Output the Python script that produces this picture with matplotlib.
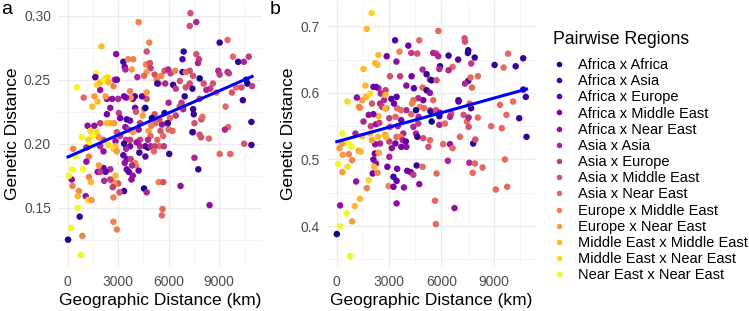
import numpy as np
import matplotlib
matplotlib.use("Agg")
import matplotlib.pyplot as plt
from matplotlib.lines import Line2D

plt.rcParams['font.family'] = ['Liberation Sans', 'DejaVu Sans']

regions = ["Africa x Africa", "Africa x Asia", "Africa x Europe", "Africa x Middle East",
           "Africa x Near East", "Asia x Asia", "Asia x Europe", "Asia x Middle East",
           "Asia x Near East", "Europe x Middle East", "Europe x Near East",
           "Middle East x Middle East", "Middle East x Near East", "Near East x Near East"]

# panel a: geographic distance (km), genetic distance, region index
a_geo = [7300, 7260, 7650, 4220, 4850, 2010, 9510, 9040, 2880, 4700, 6900, 6830, 7650, 7810, 7750,
         9830, 10140, 10480, 10770, 3310, 3390, 3590, 3900, 4660, 4890, 4930, 3810, 3430, 4140, 4700,
         4540, 5170, 5290, 5410, 5560, 5760, 5980, 6120, 6390, 5330, 5800, 6270, 6430, 6670, 6830,
         7020, 7260, 7460, 7260, 7020, 7420, 7850, 8090, 8480, 8840, 8960, 9040, 9510, 9590, 9770,
         10020, 10340, 10610, 10690, 10970, 10420, 10930, 10930, 10500, 9040, 9670, 9390, 9550, 9350, 8400,
         8440, 7770, 7540, 7460, 7850, 7930, 7420, 7460, 7500, 7540, 7950, 8010, 7850, 8250, 8640,
         6960, 6770, 6870, 6670, 6430, 6080, 5880, 6000, 6230, 6040, 5680, 5520, 5330, 5450, 5720,
         5760, 6000, 5960, 5600, 5450, 5170, 5010, 5210, 4970, 4810, 4930, 4770, 4620, 4770, 4930,
         5170, 5130, 4620, 4540, 4700, 5410, 5680, 5640, 5600, 6710, 4300, 4300, 4260, 4100, 4220,
         4300, 4460, 4540, 4700, 4420, 4700, 4620, 4010, 4060, 3870, 3990, 3710, 3750, 3470, 3350,
         3000, 3040, 3120, 3510, 3710, 3430, 3630, 3870, 3710, 3470, 3710, 3470, 3350, 3120, 2920,
         2840, 3310, 3510, 3750, 3990, 4060, 3830, 3390, 3510, 3630, 4220, 3870, 3790, 3350, 3000,
         2800, 3080, 2720, 2840, 2530, 2720, 2720, 2920, 2530, 2130, 2250, 1850, 1780, 1930, 2170,
         2840, 2720, 2920, 2410, 2130, 1930, 2130, 1740, 1850, 1460, 1220, 1580, 1930, 2330, 2530,
         2760, 2330, 2530, 2640, 2330, 2250, 1930, 1740, 1930, 2130, 2370, 2410, 2800, 2920, 2720,
         1700, 1640, 550, 1580, 1780, 950, 1460, 1180, 1340, 830, 1300, 1110, 320, 470, 1260,
         1110, 910, 280, 240, 80, 1260, 1380, 670, 590, 1070, 1220, 1420, 590, 710, 200,
         870, 770, 20, 280, 2680]
a_gen = [0.302, 0.292, 0.295, 0.295, 0.279, 0.276, 0.281, 0.279, 0.270, 0.272, 0.272, 0.266, 0.270, 0.266, 0.263,
         0.268, 0.264, 0.264, 0.268, 0.264, 0.260, 0.266, 0.266, 0.262, 0.263, 0.259, 0.258, 0.258, 0.252, 0.256,
         0.253, 0.254, 0.250, 0.247, 0.253, 0.257, 0.258, 0.255, 0.257, 0.247, 0.247, 0.246, 0.243, 0.249, 0.256,
         0.256, 0.257, 0.253, 0.247, 0.244, 0.243, 0.251, 0.247, 0.243, 0.240, 0.257, 0.254, 0.256, 0.255, 0.240,
         0.244, 0.244, 0.250, 0.247, 0.245, 0.234, 0.217, 0.199, 0.200, 0.192, 0.192, 0.229, 0.213, 0.211, 0.204,
         0.152, 0.180, 0.189, 0.209, 0.207, 0.205, 0.209, 0.227, 0.223, 0.216, 0.219, 0.221, 0.235, 0.242, 0.247,
         0.237, 0.232, 0.227, 0.229, 0.222, 0.220, 0.216, 0.211, 0.210, 0.192, 0.206, 0.210, 0.203, 0.198, 0.198,
         0.224, 0.232, 0.216, 0.215, 0.219, 0.223, 0.220, 0.216, 0.214, 0.210, 0.206, 0.203, 0.198, 0.197, 0.198,
         0.198, 0.194, 0.190, 0.165, 0.162, 0.170, 0.170, 0.149, 0.144, 0.167, 0.203, 0.198, 0.193, 0.201, 0.211,
         0.216, 0.222, 0.227, 0.235, 0.237, 0.240, 0.228, 0.228, 0.225, 0.235, 0.237, 0.241, 0.236, 0.236, 0.237,
         0.235, 0.224, 0.220, 0.219, 0.218, 0.213, 0.211, 0.209, 0.203, 0.203, 0.198, 0.196, 0.200, 0.206, 0.209,
         0.202, 0.191, 0.188, 0.188, 0.185, 0.183, 0.183, 0.185, 0.180, 0.178, 0.179, 0.175, 0.172, 0.163, 0.169,
         0.168, 0.162, 0.170, 0.175, 0.172, 0.158, 0.139, 0.133, 0.180, 0.181, 0.178, 0.183, 0.178, 0.178, 0.171,
         0.198, 0.196, 0.194, 0.199, 0.203, 0.198, 0.194, 0.209, 0.205, 0.206, 0.203, 0.214, 0.216, 0.216, 0.216,
         0.216, 0.223, 0.228, 0.235, 0.235, 0.237, 0.242, 0.246, 0.248, 0.250, 0.252, 0.248, 0.250, 0.250, 0.245,
         0.255, 0.252, 0.244, 0.237, 0.233, 0.236, 0.229, 0.214, 0.210, 0.205, 0.199, 0.197, 0.196, 0.190, 0.190,
         0.186, 0.180, 0.180, 0.172, 0.175, 0.174, 0.170, 0.163, 0.159, 0.159, 0.156, 0.156, 0.150, 0.143, 0.134,
         0.128, 0.113, 0.125, 0.167, 0.166]
a_reg = [7, 7, 5, 9, 9, 11, 8, 1, 4, 7, 1, 2, 7, 6, 5,
         8, 1, 5, 6, 1, 3, 9, 9, 9, 7, 6, 10, 5, 5, 10,
         8, 7, 9, 7, 9, 7, 5, 6, 9, 1, 5, 1, 6, 7, 1,
         8, 7, 7, 7, 7, 1, 0, 7, 6, 8, 5, 6, 5, 6, 7,
         8, 7, 1, 0, 6, 1, 1, 1, 7, 8, 8, 8, 8, 5, 8,
         4, 1, 5, 7, 7, 7, 1, 1, 1, 7, 7, 8, 6, 5, 7,
         1, 6, 5, 7, 6, 8, 8, 8, 8, 1, 8, 7, 8, 8, 6,
         1, 5, 1, 4, 7, 7, 0, 8, 9, 10, 8, 5, 2, 1, 5,
         6, 8, 2, 0, 5, 9, 7, 8, 8, 4, 6, 5, 1, 4, 4,
         6, 10, 9, 7, 2, 10, 0, 3, 7, 3, 2, 9, 10, 4, 3,
         5, 6, 3, 1, 3, 4, 6, 10, 6, 6, 3, 5, 1, 6, 7,
         4, 2, 3, 6, 9, 9, 5, 4, 3, 2, 3, 4, 4, 1, 7,
         9, 7, 10, 11, 6, 9, 9, 9, 5, 3, 2, 10, 4, 6, 5,
         11, 12, 10, 12, 7, 5, 4, 12, 10, 13, 12, 4, 6, 11, 11,
         10, 3, 4, 4, 4, 10, 4, 12, 11, 13, 12, 11, 5, 3, 9,
         13, 2, 13, 10, 11, 8, 11, 4, 12, 13, 13, 5, 9, 13, 9,
         4, 13, 13, 4, 13, 9, 11, 9, 11, 4, 12, 10, 13, 1, 13,
         9, 13, 0, 9, 6]

# panel b
b_geo = [2000, 1720, 3340, 4100, 4730, 5820, 7330, 7350, 7540, 7520, 6410, 6960, 7910, 9050, 9820,
         10260, 10690, 9570, 7710, 6640, 6410, 5700, 5820, 5530, 4610, 4270, 3590, 2860, 3420, 2390,
         2200, 2330, 1530, 4920, 5150, 5340, 5440, 5720, 5920, 5880, 4290, 3630, 3050, 3990, 4420,
         4920, 5150, 5340, 5530, 4960, 4670, 4390, 4310, 4770, 5000, 5340, 5380, 5690, 5920, 5880,
         5880, 5440, 5340, 5250, 4960, 4540, 4620, 4390, 4670, 4690, 4540, 4270, 3990, 3680, 3460,
         3280, 3430, 3130, 2790, 2520, 2390, 2250, 2710, 2820, 3010, 3360, 3690, 3500, 3810, 3430,
         3650, 3780, 3360, 3960, 3990, 3700, 3150, 3010, 2480, 2200, 2180, 2100, 2250, 2060, 2330,
         2140, 2400, 2370, 2020, 1910, 1950, 2250, 2440, 2400, 2100, 1830, 1530, 1260, 1450, 1680,
         1910, 2100, 1640, 2020, 2480, 2600, 2790, 2790, 3050, 2770, 2820, 610, 1150, 1330, 1070,
         1450, 1260, 1370, 650, 320, 300, 150, 340, 690, 840, 880, 610, 80, 320, 1110,
         1720, 1830, 1330, 1030, 570, 880, 190, 190, 0, 760, 3010, 2900, 2970, 3250, 3430,
         3250, 3460, 3430, 3850, 4040, 4240, 4390, 4580, 4920, 4730, 5720, 5630, 5680, 6750, 6100,
         6490, 6640, 6370, 7060, 6980, 6980, 6560, 6490, 6200, 7270, 7460, 7560, 7700, 7560, 7620,
         7750, 7540, 7350, 7670, 8090, 8090, 7820, 7940, 7600, 7920, 7790, 8360, 8850, 9360, 9460,
         9730, 10110, 10460, 10840, 10880, 9640, 9120, 9770, 10690]
b_gen = [0.720, 0.696, 0.679, 0.671, 0.679, 0.693, 0.682, 0.677, 0.664, 0.660, 0.656, 0.650, 0.653, 0.642, 0.659,
         0.640, 0.652, 0.638, 0.644, 0.639, 0.634, 0.659, 0.655, 0.660, 0.659, 0.660, 0.662, 0.655, 0.647, 0.657,
         0.645, 0.642, 0.636, 0.635, 0.628, 0.620, 0.619, 0.619, 0.640, 0.636, 0.625, 0.625, 0.625, 0.611, 0.607,
         0.608, 0.604, 0.600, 0.589, 0.589, 0.592, 0.589, 0.584, 0.579, 0.577, 0.574, 0.572, 0.574, 0.570, 0.565,
         0.552, 0.557, 0.529, 0.519, 0.532, 0.539, 0.534, 0.549, 0.554, 0.564, 0.574, 0.568, 0.574, 0.574, 0.577,
         0.584, 0.594, 0.591, 0.604, 0.599, 0.607, 0.609, 0.589, 0.577, 0.562, 0.564, 0.559, 0.550, 0.539, 0.534,
         0.534, 0.529, 0.524, 0.527, 0.519, 0.519, 0.517, 0.527, 0.524, 0.523, 0.509, 0.500, 0.494, 0.479, 0.480,
         0.489, 0.510, 0.534, 0.529, 0.539, 0.550, 0.553, 0.555, 0.565, 0.568, 0.567, 0.557, 0.579, 0.589, 0.594,
         0.599, 0.609, 0.611, 0.584, 0.584, 0.579, 0.597, 0.577, 0.549, 0.537, 0.534, 0.587, 0.593, 0.578, 0.539,
         0.535, 0.513, 0.512, 0.524, 0.539, 0.524, 0.517, 0.507, 0.508, 0.519, 0.499, 0.489, 0.493, 0.481, 0.467,
         0.457, 0.469, 0.441, 0.430, 0.419, 0.407, 0.431, 0.400, 0.388, 0.355, 0.504, 0.489, 0.460, 0.459, 0.468,
         0.474, 0.486, 0.434, 0.458, 0.483, 0.481, 0.477, 0.491, 0.489, 0.463, 0.479, 0.438, 0.403, 0.427, 0.523,
         0.523, 0.517, 0.498, 0.534, 0.589, 0.587, 0.569, 0.564, 0.554, 0.567, 0.557, 0.549, 0.577, 0.563, 0.584,
         0.608, 0.618, 0.614, 0.623, 0.625, 0.563, 0.524, 0.530, 0.495, 0.494, 0.480, 0.488, 0.550, 0.582, 0.547,
         0.567, 0.587, 0.562, 0.594, 0.534, 0.500, 0.455, 0.459, 0.605]
b_reg = [12, 11, 2, 3, 8, 8, 7, 7, 1, 1, 1, 2, 1, 1, 8,
         1, 1, 8, 6, 8, 5, 6, 5, 5, 7, 6, 9, 3, 4, 11,
         11, 11, 11, 5, 1, 5, 0, 7, 1, 5, 3, 6, 7, 4, 2,
         8, 1, 4, 8, 3, 5, 8, 9, 9, 8, 8, 1, 7, 3, 1,
         5, 0, 8, 7, 7, 5, 1, 5, 6, 5, 0, 8, 5, 8, 8,
         3, 2, 2, 6, 5, 5, 3, 5, 4, 6, 8, 3, 5, 5, 8,
         9, 5, 3, 2, 4, 3, 4, 6, 5, 4, 3, 3, 4, 3, 9,
         11, 10, 11, 10, 11, 6, 4, 6, 11, 3, 4, 5, 10, 10, 11,
         12, 3, 11, 7, 5, 6, 11, 11, 6, 10, 11, 12, 4, 9, 5,
         11, 10, 11, 13, 13, 10, 10, 10, 9, 13, 9, 12, 13, 10, 4,
         9, 12, 11, 11, 13, 10, 4, 13, 0, 13, 5, 3, 9, 3, 2,
         1, 3, 4, 4, 3, 3, 6, 1, 8, 4, 8, 8, 8, 4, 8,
         4, 8, 5, 8, 1, 2, 7, 5, 8, 7, 8, 7, 1, 5, 8,
         8, 1, 5, 8, 8, 8, 1, 7, 5, 8, 8, 8, 8, 8, 8,
         8, 8, 1, 1, 1, 8, 8, 8, 1]

colors = plt.cm.plasma(np.linspace(0, 1, len(regions)))

W, H = 749, 311
fig = plt.figure(figsize=(W / 100, H / 100), dpi=100)


def panel(rect, geo, gen, reg, xlim, ylim, yticks, yminor, ylabels):
    ax = fig.add_axes([rect[0] / W, 1 - rect[3] / H, (rect[2] - rect[0]) / W, (rect[3] - rect[1]) / H])
    geo = np.array(geo)
    gen = np.array(gen)
    ax.scatter(geo, gen, c=colors[np.array(reg)], s=22, linewidths=0, zorder=3)
    k, b = np.polyfit(geo, gen, 1)
    xs = np.array([geo.min(), geo.max()])
    ax.plot(xs, k * xs + b, color='#0000FF', lw=2.2, zorder=4)
    ax.set_xlim(*xlim)
    ax.set_ylim(*ylim)
    ax.set_xticks([0, 3000, 6000, 9000])
    ax.set_xticks([1500, 4500, 7500, 10500], minor=True)
    ax.set_yticks(yticks)
    ax.set_yticklabels(ylabels)
    ax.set_yticks(yminor, minor=True)
    ax.grid(which='major', color='#EBEBEB', lw=1.0, zorder=0)
    ax.grid(which='minor', color='#F3F3F3', lw=0.6, zorder=0)
    for s in ax.spines.values():
        s.set_visible(False)
    ax.tick_params(which='both', length=0, labelsize=10, labelcolor='#4D4D4D')
    ax.tick_params(axis='x', pad=6)
    ax.tick_params(axis='y', pad=5)
    ax.set_xlabel("Geographic Distance (km)", fontsize=12.5, labelpad=3)
    ax.set_ylabel("Genetic Distance", fontsize=12.5, labelpad=3)
    return ax


ax_a = panel((58, 1, 261.5, 266.7), a_geo, a_gen, a_reg, (-580, 11530), (0.1039, 0.3115),
             [0.15, 0.20, 0.25, 0.30], [0.125, 0.175, 0.225, 0.275], ["0.15", "0.20", "0.25", "0.30"])
ax_b = panel((326.7, 1, 536, 266.7), b_geo, b_gen, b_reg, (-580, 11424), (0.339, 0.738),
             [0.4, 0.5, 0.6, 0.7], [0.35, 0.45, 0.55, 0.65], ["0.4", "0.5", "0.6", "0.7"])

fig.text(1 / W, 1 - 1 / H, "a", fontsize=14, va='top', ha='left')
fig.text(270 / W, 1 - 1 / H, "b", fontsize=14, va='top', ha='left')

fig.text(552.7 / W, 1 - 39 / H, "Pairwise Regions", fontsize=12.7, va='center', ha='left')
handles = [Line2D([], [], ls='', marker='o', ms=4, mec='none', mfc=colors[i]) for i in range(len(regions))]
fig.legend(handles, regions, loc='upper left',
           bbox_to_anchor=(552 / W, 1 - 58 / H), frameon=False,
           fontsize=10.5, labelspacing=0.15, handletextpad=0.8,
           handlelength=1.0, borderaxespad=0, borderpad=0)

fig.savefig("out.png", dpi=100)
